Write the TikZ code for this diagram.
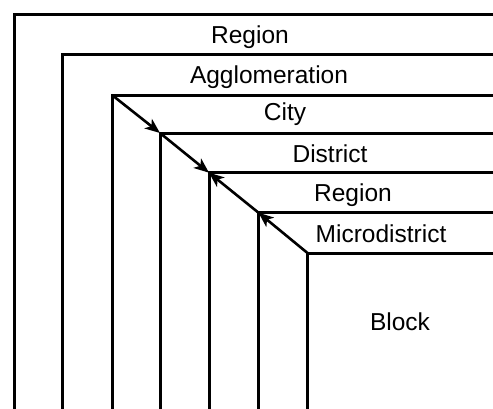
\documentclass[tikz,border=0pt]{standalone}
\usepackage{fontspec}
\setmainfont{Liberation Sans}
\usetikzlibrary{arrows.meta}
\begin{document}
\begin{tikzpicture}[x=1pt,y=-1pt,
  frame/.style={line width=3pt},
  link/.style={line width=2.6pt},
  fwd/.style={-{Stealth[length=15pt,width=12pt,inset=4pt]}},
  back/.style={{Stealth[length=15pt,width=12pt,inset=4pt]}-},
  tag/.style={font=\fontsize{24.5}{29}\selectfont, anchor=base, inner sep=0pt}]
\useasboundingbox (0,0) rectangle (493,408);
% corners of the nested levels
\coordinate (c1) at (14,14.7);
\coordinate (c2) at (62.5,54.2);
\coordinate (c3) at (112,95);
\coordinate (c4) at (160,133);
\coordinate (c5) at (209,172.7);
\coordinate (c6) at (258.5,212.7);
\coordinate (c7) at (307.5,253);
% each level: a left edge running down and a top edge running right
\foreach \c in {c1,c2,c3,c4,c5,c6,c7}
  \draw[frame] (\c |- 0,412) -- (\c) -- (\c -| 497,0);
% diagonal links between the corners
\draw[link,fwd]  (c3) -- (c4);
\draw[link,fwd]  (c4) -- (c5);
\draw[link,back] (c5) -- (c6);
\draw[link,back] (c6) -- (c7);
% level names
\node[tag] (n1) at (250,43) {Region};
\node[tag] (n2) at (269,83.3) {Agglomeration};
\node[tag] (n3) at (285,120.7) {City};
\node[tag] (n4) at (330,162.5) {District};
\node[tag] (n5) at (353,201.7) {Region};
\node[tag] (n6) at (381,242.5) {Microdistrict};
\node[tag] (n7) at (400,330) {Block};
\end{tikzpicture}
\end{document}
